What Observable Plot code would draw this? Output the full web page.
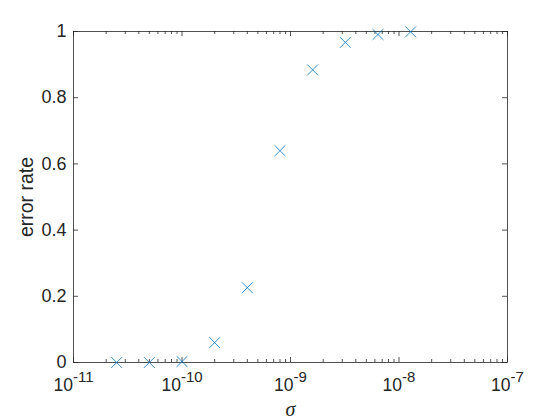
<!DOCTYPE html>
<html><head><meta charset="utf-8">
<script src="https://cdn.jsdelivr.net/npm/d3@7"></script>
<script src="https://cdn.jsdelivr.net/npm/@observablehq/plot@0.6"></script>
<style>body{margin:0;background:#fff}</style>
</head><body><div id="chart"></div>
<script>
const sigma = [2.5e-11, 5e-11, 1e-10, 2e-10, 4e-10, 8e-10, 1.6e-9, 3.2e-9, 6.4e-9, 1.28e-8];
const errorRate = [0, 0, 0.003, 0.06, 0.226, 0.640, 0.884, 0.967, 0.991, 0.999];
const xMajorTicks = [1e-11, 1e-10, 1e-9, 1e-8, 1e-7];
const xTickExponents = ["-11", "-10", "-9", "-8", "-7"];
const yTicks = [0, 0.2, 0.4, 0.6, 0.8, 1];
const yTickLabels = ["0", "0.2", "0.4", "0.6", "0.8", "1"];
const xLabel = "σ";
const yLabel = "error rate";

const data = sigma.map((s, i) => ({sigma: s, rate: errorRate[i]}));
const xMinorTicks = [];
for (let e = -11; e < -7; e++) for (let k = 2; k <= 9; k++) xMinorTicks.push(k * Math.pow(10, e));

const W = 560, H = 420, mL = 73, mR = 53, mT = 31, mB = 58;
const fw = W - mL - mR, fh = H - mT - mB;
const ink = "#262626", blue = "#0072BD";
const sans = "Liberation Sans, Arial, Helvetica, sans-serif";

const svg = Plot.plot({
  width: W, height: H,
  marginLeft: mL, marginRight: mR, marginTop: mT, marginBottom: mB,
  style: {fontFamily: sans, color: ink, background: "#fff"},
  x: {type: "log", domain: [1e-11, 1e-7], axis: null},
  y: {domain: [0, 1], axis: null},
  marks: [
    Plot.frame({stroke: ink, strokeWidth: 0.8}),
    Plot.tickX(xMajorTicks, {x: d => d, stroke: ink, strokeWidth: 0.8, insetTop: fh - 5}),
    Plot.tickX(xMajorTicks, {x: d => d, stroke: ink, strokeWidth: 0.8, insetBottom: fh - 5}),
    Plot.tickX(xMinorTicks, {x: d => d, stroke: ink, strokeWidth: 0.8, insetTop: fh - 3}),
    Plot.tickX(xMinorTicks, {x: d => d, stroke: ink, strokeWidth: 0.8, insetBottom: fh - 3}),
    Plot.tickY(yTicks, {y: d => d, stroke: ink, strokeWidth: 0.8, insetRight: fw - 5}),
    Plot.tickY(yTicks, {y: d => d, stroke: ink, strokeWidth: 0.8, insetLeft: fw - 5}),
    Plot.axisX(xMajorTicks, {tickSize: 0, tickPadding: 16, fontSize: 17.5, label: null,
      tickFormat: d => xTickExponents[xMajorTicks.indexOf(d)]}),
    Plot.axisY(yTicks, {tickSize: 0, tickPadding: 7, fontSize: 18, label: null,
      tickFormat: d => yTickLabels[yTicks.indexOf(d)]}),
    Plot.dot(data, {x: "sigma", y: "rate", symbol: "times", r: 5, stroke: blue, strokeWidth: 0.8}),
    Plot.text([xLabel], {frameAnchor: "bottom", dy: 53, lineAnchor: "bottom", fontSize: 20,
      fontFamily: "Liberation Serif, DejaVu Serif, serif", fontStyle: "italic", fill: ink}),
    Plot.text([yLabel], {frameAnchor: "left", textAnchor: "middle", dx: -41, rotate: -90,
      lineAnchor: "bottom", fontSize: 19.5, fill: ink})
  ]
});

d3.select(svg).selectAll('g[aria-label="x-axis tick label"] text').each(function () {
  const exp = this.textContent;
  const t = d3.select(this);
  t.text("10");
  t.append("tspan").attr("font-size", 15).attr("dy", -9.3).text(exp);
});

document.getElementById("chart").appendChild(svg);
</script>
</body></html>
